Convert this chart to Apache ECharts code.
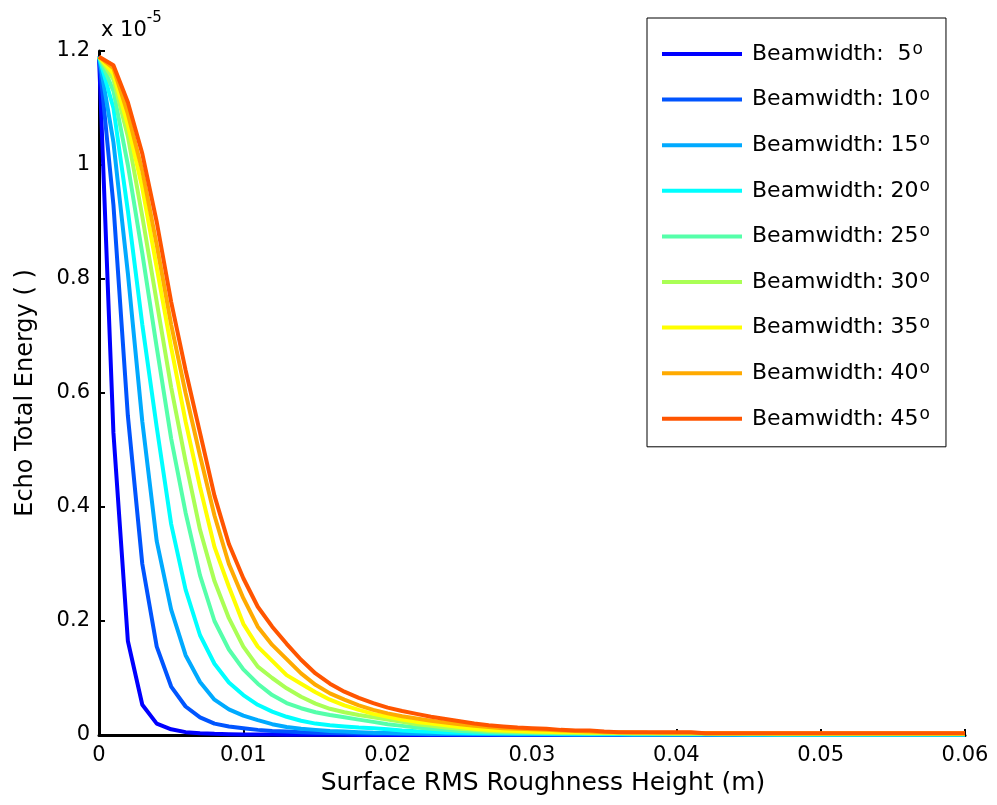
<!DOCTYPE html>
<html>
<head>
<meta charset="utf-8">
<script src="https://cdn.jsdelivr.net/npm/echarts@6/dist/echarts.min.js"></script>
<style>
html,body{margin:0;padding:0;background:#fff;}
#chart{width:997px;height:805px;}
</style>
</head>
<body>
<div id="chart"></div>
<script>
// x values: surface RMS roughness height (m)
const xs = [0, 0.001, 0.002, 0.003, 0.004, 0.005, 0.006, 0.007, 0.008, 0.009,
  0.010, 0.011, 0.012, 0.013, 0.014, 0.015, 0.016, 0.017, 0.018, 0.019,
  0.020, 0.021, 0.022, 0.023, 0.024, 0.025, 0.026, 0.027, 0.028, 0.029,
  0.030, 0.031, 0.032, 0.033, 0.034, 0.035, 0.036, 0.037, 0.038, 0.039,
  0.040, 0.041, 0.042, 0.043, 0.044, 0.045, 0.046, 0.047, 0.048, 0.049,
  0.050, 0.051, 0.052, 0.053, 0.054, 0.055, 0.056, 0.057, 0.058, 0.059, 0.060];

const seriesNames = ['Beamwidth:  5', 'Beamwidth: 10', 'Beamwidth: 15', 'Beamwidth: 20', 'Beamwidth: 25',
  'Beamwidth: 30', 'Beamwidth: 35', 'Beamwidth: 40', 'Beamwidth: 45'];

const seriesColors = ['#0000ff', '#0055ff', '#00aaff', '#00ffff', '#55ffaa', '#aaff55', '#ffff00', '#ffaa00', '#ff5500'];

// Echo total energy, in units of 1e-5
const bw5 = [1.19, 0.53, 0.165, 0.053, 0.02, 0.01, 0.005, 0.003, 0.002, 0.0015, 0.001,
  0.001, 0.0008, 0.0006, 0.0005, 0.0004, 0.0003, 0.0003, 0.0002, 0.0002, 0.0002,
  0.0001, 0.0001, 0.0001, 0.0001, 0.0001, 0.0001, 0.0001, 0.0001, 0.0001, 0.0001,
  0.0001, 0.0001, 0.0001, 0.0001, 0.0001, 0.0001, 0.0001, 0.0001, 0.0001, 0.0001,
  0.0001, 0.0001, 0.0001, 0.0001, 0.0001, 0.0001, 0.0001, 0.0001, 0.0001, 0.0001,
  0.0001, 0.0001, 0.0001, 0.0001, 0.0001, 0.0001, 0.0001, 0.0001, 0.0001, 0.0001];
const bw10 = [1.19, 0.93, 0.56, 0.30, 0.155, 0.085, 0.05, 0.031, 0.02, 0.015, 0.012,
  0.009, 0.007, 0.006, 0.005, 0.004, 0.0035, 0.003, 0.0025, 0.002, 0.002,
  0.0018, 0.0016, 0.0014, 0.0012, 0.001, 0.001, 0.0009, 0.0008, 0.0008, 0.0007,
  0.0007, 0.0006, 0.0006, 0.0005, 0.0005, 0.0005, 0.0004, 0.0004, 0.0004, 0.0004,
  0.0003, 0.0003, 0.0003, 0.0003, 0.0003, 0.0003, 0.0003, 0.0003, 0.0003, 0.0003,
  0.0003, 0.0003, 0.0003, 0.0003, 0.0003, 0.0003, 0.0003, 0.0003, 0.0003, 0.0003];
const bw15 = [1.19, 1.04, 0.81, 0.55, 0.34, 0.22, 0.14, 0.093, 0.062, 0.045, 0.034,
  0.026, 0.019, 0.014, 0.011, 0.009, 0.007, 0.006, 0.005, 0.004, 0.0035,
  0.003, 0.0027, 0.0024, 0.0022, 0.002, 0.0018, 0.0016, 0.0015, 0.0014, 0.0013,
  0.0012, 0.0011, 0.001, 0.001, 0.0009, 0.0009, 0.0008, 0.0008, 0.0008, 0.0007,
  0.0007, 0.0007, 0.0006, 0.0006, 0.0006, 0.0006, 0.0006, 0.0006, 0.0006, 0.0006,
  0.0005, 0.0005, 0.0005, 0.0005, 0.0005, 0.0005, 0.0005, 0.0005, 0.0005, 0.0005];
const bw20 = [1.19, 1.10, 0.92, 0.72, 0.54, 0.37, 0.255, 0.175, 0.125, 0.092, 0.07,
  0.053, 0.041, 0.032, 0.025, 0.02, 0.017, 0.015, 0.013, 0.012, 0.01,
  0.008, 0.0065, 0.0055, 0.0045, 0.004, 0.0035, 0.003, 0.003, 0.0025, 0.0025,
  0.0022, 0.002, 0.002, 0.0018, 0.0017, 0.0016, 0.0015, 0.0014, 0.0014, 0.0013,
  0.0012, 0.0012, 0.0011, 0.0011, 0.001, 0.001, 0.001, 0.001, 0.001, 0.001,
  0.0009, 0.0009, 0.0009, 0.0009, 0.0009, 0.0009, 0.0009, 0.0009, 0.0009, 0.0009];
const bw25 = [1.19, 1.13, 1.0, 0.845, 0.68, 0.52, 0.39, 0.28, 0.20, 0.15, 0.115,
  0.09, 0.07, 0.056, 0.047, 0.04, 0.035, 0.031, 0.027, 0.023, 0.019,
  0.016, 0.013, 0.011, 0.009, 0.007, 0.006, 0.005, 0.0045, 0.004, 0.004,
  0.0035, 0.0032, 0.003, 0.0028, 0.0026, 0.0025, 0.0023, 0.0022, 0.0021, 0.002,
  0.002, 0.0019, 0.0018, 0.0017, 0.0016, 0.0016, 0.0015, 0.0015, 0.0014, 0.0014,
  0.0013, 0.0013, 0.0013, 0.0013, 0.0013, 0.0013, 0.0013, 0.0013, 0.0013, 0.0013];
const bw30 = [1.19, 1.15, 1.05, 0.91, 0.76, 0.61, 0.48, 0.36, 0.27, 0.205, 0.155,
  0.12, 0.10, 0.082, 0.067, 0.055, 0.046, 0.04, 0.035, 0.031, 0.027,
  0.023, 0.019, 0.016, 0.013, 0.011, 0.009, 0.007, 0.006, 0.0055, 0.005,
  0.0045, 0.0042, 0.004, 0.0037, 0.0035, 0.0033, 0.0031, 0.003, 0.0028, 0.0027,
  0.0026, 0.0025, 0.0024, 0.0023, 0.0022, 0.0021, 0.002, 0.002, 0.0019, 0.0019,
  0.0018, 0.0018, 0.0018, 0.0018, 0.0018, 0.0018, 0.0018, 0.0018, 0.0018, 0.0018];
const bw35 = [1.19, 1.16, 1.07, 0.96, 0.82, 0.68, 0.55, 0.435, 0.33, 0.26, 0.195,
  0.155, 0.13, 0.105, 0.09, 0.075, 0.062, 0.052, 0.044, 0.037, 0.032,
  0.027, 0.023, 0.02, 0.017, 0.014, 0.011, 0.009, 0.008, 0.007, 0.006,
  0.0055, 0.005, 0.0047, 0.0044, 0.0042, 0.004, 0.0038, 0.0036, 0.0034, 0.0032,
  0.003, 0.0029, 0.0028, 0.0027, 0.0026, 0.0025, 0.0024, 0.0024, 0.0023, 0.0023,
  0.0022, 0.0022, 0.0022, 0.0022, 0.0022, 0.0022, 0.0022, 0.0022, 0.0022, 0.0022];
const bw40 = [1.19, 1.17, 1.09, 0.99, 0.86, 0.72, 0.60, 0.49, 0.385, 0.30, 0.24,
  0.19, 0.158, 0.133, 0.108, 0.088, 0.073, 0.062, 0.052, 0.044, 0.038,
  0.033, 0.029, 0.025, 0.022, 0.019, 0.016, 0.014, 0.012, 0.011, 0.010,
  0.009, 0.008, 0.007, 0.006, 0.005, 0.005, 0.0045, 0.0042, 0.004, 0.004,
  0.004, 0.003, 0.003, 0.003, 0.003, 0.003, 0.003, 0.003, 0.003, 0.003,
  0.003, 0.003, 0.003, 0.003, 0.003, 0.003, 0.003, 0.003, 0.003, 0.003];
const bw45 = [1.19, 1.175, 1.11, 1.02, 0.90, 0.76, 0.64, 0.53, 0.42, 0.335, 0.275,
  0.225, 0.19, 0.16, 0.132, 0.108, 0.09, 0.076, 0.065, 0.056, 0.048,
  0.042, 0.037, 0.032, 0.028, 0.024, 0.02, 0.017, 0.015, 0.013, 0.012,
  0.011, 0.009, 0.008, 0.008, 0.006, 0.005, 0.005, 0.005, 0.005, 0.005,
  0.005, 0.003, 0.003, 0.003, 0.003, 0.003, 0.003, 0.003, 0.003, 0.003,
  0.003, 0.003, 0.003, 0.003, 0.003, 0.003, 0.003, 0.003, 0.003, 0.003];

const seriesValues = [bw5, bw10, bw15, bw20, bw25, bw30, bw35, bw40, bw45];

const FONT = 'DejaVu Sans';

const chart = echarts.init(document.getElementById('chart'), null, {renderer: 'canvas'});

const series = seriesValues.map((vals, k) => ({
  name: seriesNames[k],
  type: 'line',
  data: xs.map((x, i) => [x, vals[i]]),
  symbol: 'none',
  showSymbol: false,
  smooth: false,
  animation: false,
  lineStyle: {width: 4, color: seriesColors[k]},
  itemStyle: {color: seriesColors[k]},
  z: 2 + k
}));

chart.setOption({
  animation: false,
  backgroundColor: '#ffffff',
  color: seriesColors,
  title: {
    text: '{a|x 10}{b|-5}',
    left: 96,
    top: 6,
    textStyle: {
      fontWeight: 'normal',
      rich: {
        a: {fontFamily: FONT, fontSize: 21, fontWeight: 'normal', color: '#000', lineHeight: 30, verticalAlign: 'bottom'},
        b: {fontFamily: FONT, fontSize: 15, fontWeight: 'normal', color: '#000', lineHeight: 15, verticalAlign: 'top'}
      }
    }
  },
  grid: {left: 99, right: 32, top: 51, bottom: 70, containLabel: false},
  legend: {
    orient: 'vertical',
    left: 647,
    top: 18,
    data: seriesNames,
    icon: 'rect',
    itemWidth: 80,
    itemHeight: 4,
    itemGap: 19.6,
    padding: [23, 16, 15, 15],
    backgroundColor: '#ffffff',
    borderColor: '#000000',
    borderWidth: 1,
    borderRadius: 0,
    formatter: name => name + '{s|o}',
    textStyle: {
      fontFamily: FONT,
      fontSize: 22,
      color: '#000',
      lineHeight: 26,
      padding: [0, 0, 0, 5],
      rich: {
        s: {fontFamily: FONT, fontSize: 17, color: '#000', lineHeight: 10, verticalAlign: 'top', padding: [0, 0, 0, 1]}
      }
    }
  },
  xAxis: {
    type: 'value',
    min: 0,
    max: 0.06,
    interval: 0.01,
    name: 'Surface RMS Roughness Height (m)',
    nameLocation: 'middle',
    nameGap: 35,
    nameTextStyle: {fontFamily: FONT, fontSize: 25, color: '#000', padding: [0, 0, 0, 22]},
    splitLine: {show: false},
    axisLine: {show: true, onZero: false, lineStyle: {color: '#000', width: 3}},
    axisTick: {show: true, inside: true, length: 6, lineStyle: {color: '#000', width: 2}},
    axisLabel: {
      fontFamily: FONT, fontSize: 21, color: '#000', margin: 10,
      formatter: v => (Math.abs(v) < 1e-12 ? '0' : v.toFixed(2))
    }
  },
  yAxis: {
    type: 'value',
    min: 0,
    max: 1.2,
    interval: 0.2,
    name: 'Echo Total Energy ( )',
    nameLocation: 'middle',
    nameGap: 61,
    nameRotate: 90,
    nameTextStyle: {fontFamily: FONT, fontSize: 24, color: '#000'},
    splitLine: {show: false},
    axisLine: {show: true, onZero: false, lineStyle: {color: '#000', width: 3}},
    axisTick: {show: true, inside: true, length: 6, lineStyle: {color: '#000', width: 2}},
    axisLabel: {
      fontFamily: FONT, fontSize: 21, color: '#000', margin: 9,
      formatter: v => String(Math.round(v * 10) / 10)
    }
  },
  series: series
});
</script>
</body>
</html>
